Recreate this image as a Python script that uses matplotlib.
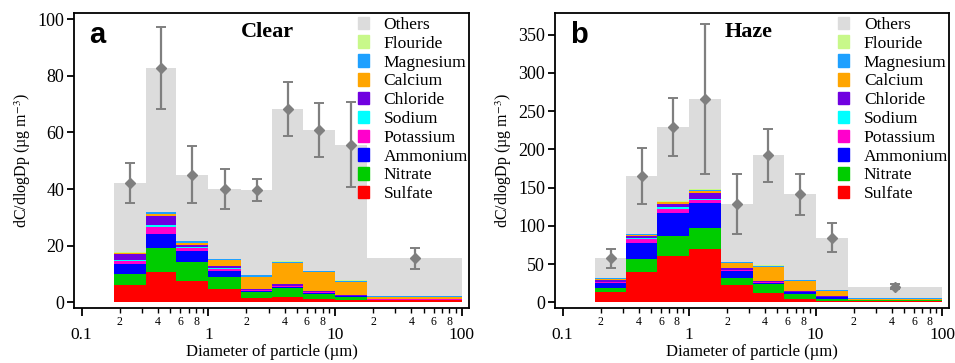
"""
Size-resolved ion composition (MOUDI stages), clear vs haze days.
Stacked dC/dlogDp bars per stage with the gravimetric total (+/- sd) behind.
"""
import numpy as np
import matplotlib
matplotlib.use("Agg")
import matplotlib.pyplot as plt
from matplotlib.patches import Patch
from matplotlib.ticker import FixedLocator, FuncFormatter

plt.rcParams["font.family"] = ["Liberation Serif", "DejaVu Serif"]
plt.rcParams["mathtext.fontset"] = "stix"

# stage cut-offs (um)
edges = [0.18, 0.32, 0.56, 1.0, 1.8, 3.2, 5.6, 10, 18, 100]

species = ["Sulfate", "Nitrate", "Ammonium", "Potassium", "Sodium",
           "Chloride", "Calcium", "Magnesium", "Flouride"]
colors = {
    "Sulfate": "#ff0000", "Nitrate": "#00cc00", "Ammonium": "#0000ff",
    "Potassium": "#ff00cc", "Sodium": "#00ffff", "Chloride": "#7000e0",
    "Calcium": "#ffa500", "Magnesium": "#1ea0ff", "Flouride": "#c8f88a",
    "Others": "#dcdcdc",
}

# ---- clear days ----
clear_total = [42.2, 82.7, 45.1, 40.0, 39.7, 68.2, 60.8, 55.7, 15.5]
clear_err = [7.0, 14.5, 10.0, 7.0, 4.0, 9.5, 9.6, 15.0, 3.8]
clear = {
    "Sulfate":   [6.1, 10.8, 7.5, 4.6, 1.6, 1.9, 1.2, 0.8, 0.7],
    "Nitrate":   [3.8, 8.3, 6.7, 4.4, 1.9, 3.0, 1.6, 1.0, 0.2],
    "Ammonium":  [3.6, 5.1, 3.8, 1.9, 0.5, 0.6, 0.5, 0.4, 0.1],
    "Potassium": [1.0, 2.5, 1.1, 0.8, 0.2, 0.2, 0.2, 0.1, 0.05],
    "Sodium":    [0.4, 0.6, 0.3, 0.4, 0.1, 0.1, 0.1, 0.1, 0.05],
    "Chloride":  [2.1, 3.3, 0.8, 0.6, 0.5, 0.6, 0.4, 0.3, 0.2],
    "Calcium":   [0.4, 0.6, 0.7, 2.1, 4.2, 7.5, 6.6, 4.6, 0.6],
    "Magnesium": [0.2, 0.6, 0.7, 0.5, 0.5, 0.5, 0.4, 0.4, 0.3],
    "Flouride":  [0.1, 0.2, 0.2, 0.1, 0.1, 0.1, 0.1, 0.1, 0.05],
}

# ---- haze days ----
haze_total = [57.5, 165.2, 228.9, 265.9, 128.6, 192.3, 141.2, 84.5, 20.4]
haze_err = [12, 37, 38, 98, 39, 35, 27, 19, 3]
haze = {
    "Sulfate":   [13.9, 39.2, 60.6, 69.7, 22.6, 11.8, 4.3, 2.1, 2.0],
    "Nitrate":   [4.8, 17.4, 26.5, 27.5, 9.0, 12.0, 6.6, 2.6, 0.6],
    "Ammonium":  [7.0, 20.6, 29.7, 32.3, 9.5, 2.0, 2.0, 1.8, 0.4],
    "Potassium": [0.8, 5.2, 5.6, 4.3, 1.2, 0.6, 0.5, 0.3, 0.1],
    "Sodium":    [0.4, 1.5, 1.8, 1.7, 0.5, 0.3, 0.3, 0.2, 0.1],
    "Chloride":  [2.3, 3.2, 4.4, 7.9, 1.8, 1.5, 0.9, 0.9, 0.4],
    "Calcium":   [1.6, 1.5, 2.2, 2.1, 6.5, 18.5, 13.3, 6.9, 0.8],
    "Magnesium": [0.5, 0.6, 0.8, 2.0, 1.0, 1.4, 1.2, 1.5, 0.8],
    "Flouride":  [0.2, 0.2, 0.3, 0.5, 0.3, 0.2, 0.1, 0.2, 0.1],
}


def minor_label(x, pos):
    m = round(x / 10 ** np.floor(np.log10(x) + 1e-9))
    return f"{m:d}" if m in (2, 4, 6, 8) else ""


def panel(ax, comp, total, err, letter, title, ylim, yticks):
    e = np.array(edges)
    widths = e[1:] - e[:-1]
    mids = np.sqrt(e[1:] * e[:-1])
    bottom = np.zeros(len(widths))
    for sp in species:
        v = np.array(comp[sp])
        ax.bar(e[:-1], v, width=widths, bottom=bottom, align="edge",
               color=colors[sp], linewidth=0, zorder=2)
        bottom += v
    others = np.array(total) - bottom
    ax.bar(e[:-1], others, width=widths, bottom=bottom, align="edge",
           color=colors["Others"], linewidth=0, zorder=1)
    ax.errorbar(mids, total, yerr=err, fmt="D", color="#7f7f7f",
                markersize=5.5, elinewidth=1.6, capsize=3.5, capthick=1.4,
                zorder=3)

    ax.set_xscale("log")
    ax.set_xlim(0.087, 114)
    ax.set_ylim(*ylim)
    ax.set_yticks(yticks)
    ax.xaxis.set_major_locator(FixedLocator([0.1, 1, 10, 100]))
    ax.xaxis.set_major_formatter(FuncFormatter(lambda x, p: f"{x:g}"))
    minors = [m * d for d in (0.1, 1, 10) for m in range(2, 10)]
    ax.xaxis.set_minor_locator(FixedLocator(minors))
    ax.xaxis.set_minor_formatter(FuncFormatter(minor_label))
    ax.tick_params(axis="x", which="major", length=6, width=1.3,
                   labelsize=12.5, pad=7.5)
    ax.tick_params(axis="x", which="minor", length=3.5, width=1.0,
                   labelsize=8.5, pad=2)
    ax.tick_params(axis="y", length=5, width=1.3, labelsize=13, pad=2)
    for s in ax.spines.values():
        s.set_linewidth(1.3)

    ax.set_xlabel("Diameter of particle (µm)", fontsize=12, labelpad=0.5)
    ax.set_ylabel("dC/dlogDp (µg m$^{-3}$)", fontsize=11.5, labelpad=3)
    ax.text(0.06, 0.925, letter, transform=ax.transAxes, ha="center",
            va="center", fontsize=21, fontweight="bold",
            family=["Liberation Sans", "DejaVu Sans"])
    ax.text(0.49, 0.937, title, transform=ax.transAxes, ha="center",
            va="center", fontsize=16, fontweight="bold")

    labels = ["Others"] + species[::-1]
    handles = [Patch(color=colors[n]) for n in labels]
    ax.legend(handles, labels, loc="upper right", bbox_to_anchor=(1.028, 1.03),
              frameon=False, fontsize=12.6, handlelength=0.62,
              handleheight=0.72, handletextpad=0.85, labelspacing=0.14,
              borderpad=0.2)


fig = plt.figure(figsize=(9.55, 3.63), dpi=100)
ax_a = fig.add_axes([0.0775, 0.1507, 0.4135, 0.8127])
ax_b = fig.add_axes([0.581, 0.1507, 0.413, 0.8127])
panel(ax_a, clear, clear_total, clear_err, "a", "Clear", (-2.1, 102.1),
      range(0, 101, 20))
panel(ax_b, haze, haze_total, haze_err, "b", "Haze", (-7.8, 378),
      range(0, 351, 50))

fig.savefig("out.png", dpi=100)
